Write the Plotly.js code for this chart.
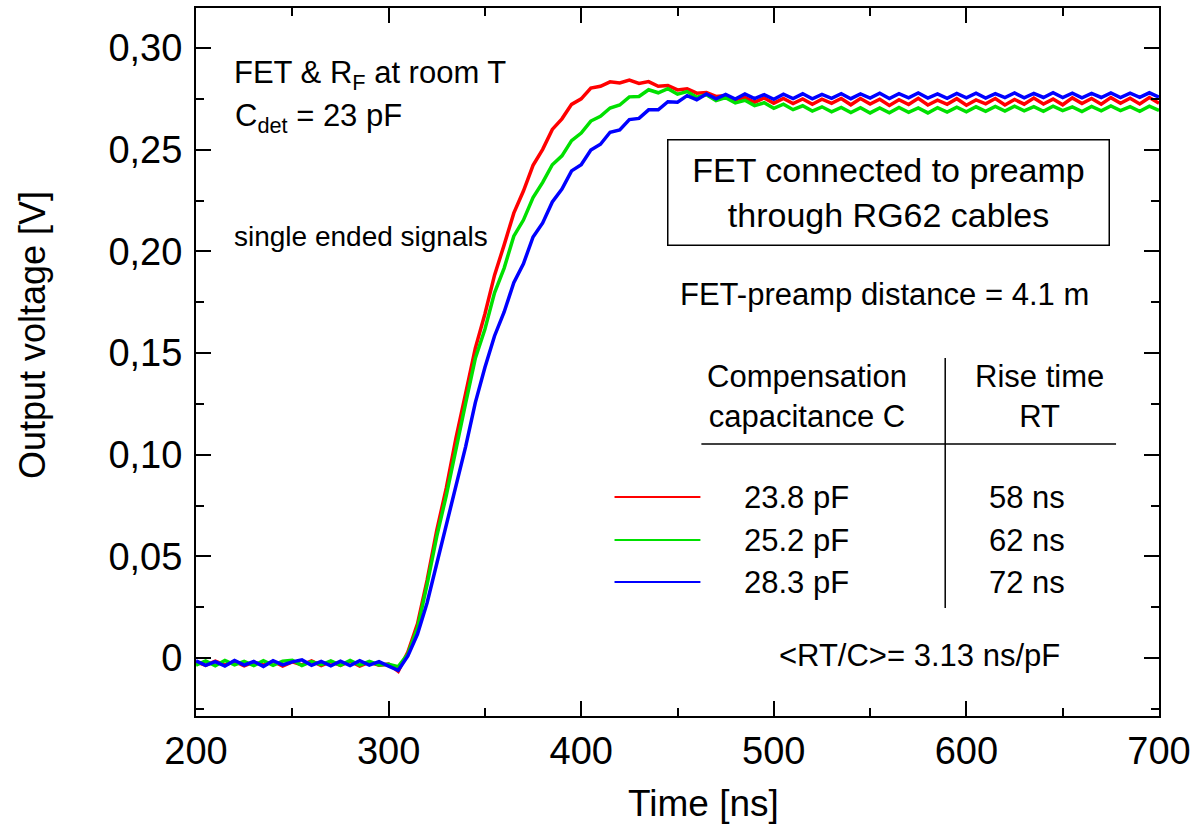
<!DOCTYPE html>
<html>
<head>
<meta charset="utf-8">
<script src="https://cdn.plot.ly/plotly-3.0.1.min.js"></script>
<style>html,body{margin:0;padding:0;background:#fff;}#chart{width:1193px;height:830px;}</style>
</head>
<body>
<div id="chart"></div>
<script>
// Time axis (ns)
const timeNs = [200,205,210,215,220,225,230,235,240,245,250,255,260,265,270,275,280,285,290,295,
300,305,310,315,320,325,330,335,340,345,350,355,360,365,370,375,380,385,390,395,
400,405,410,415,420,425,430,435,440,445,450,455,460,465,470,475,480,485,490,495,
500,505,510,515,520,525,530,535,540,545,550,555,560,565,570,575,580,585,590,595,
600,605,610,615,620,625,630,635,640,645,650,655,660,665,670,675,680,685,690,695,700];

// Output voltage (V), C = 23.8 pF
const v238 = [-0.0018,-0.0036,-0.0015,-0.0034,-0.0017,-0.0038,-0.0020,-0.0035,-0.0016,-0.0040,
-0.0019,-0.0034,-0.0014,-0.0037,-0.0018,-0.0036,-0.0016,-0.0039,-0.0020,-0.0035,
-0.0030,-0.0065,0.0030,0.0168,0.0383,0.0628,0.0838,0.1083,0.1302,0.1523,
0.1692,0.1883,0.2032,0.2188,0.2297,0.2423,0.2502,0.2600,0.2652,0.2723,
0.2750,0.2803,0.2812,0.2834,0.2828,0.2842,0.2826,0.2835,0.2812,0.2816,
0.2794,0.2800,0.2778,0.2781,0.2762,0.2766,0.2746,0.2757,0.2733,0.2755,
0.2729,0.2752,0.2727,0.2750,0.2724,0.2749,0.2728,0.2752,0.2721,0.2752,
0.2725,0.2748,0.2718,0.2746,0.2722,0.2753,0.2720,0.2744,0.2723,0.2751,
0.2719,0.2745,0.2726,0.2752,0.2720,0.2747,0.2724,0.2754,0.2725,0.2749,
0.2721,0.2755,0.2727,0.2752,0.2724,0.2756,0.2728,0.2753,0.2725,0.2757,
0.2729];

// Output voltage (V), C = 25.2 pF
const v252 = [-0.0035,-0.0014,-0.0038,-0.0012,-0.0034,-0.0016,-0.0037,-0.0013,-0.0036,-0.0015,
-0.0011,-0.0037,-0.0017,-0.0033,-0.0014,-0.0036,-0.0012,-0.0035,-0.0016,-0.0034,
-0.0031,-0.0042,0.0020,0.0148,0.0362,0.0598,0.0802,0.1038,0.1254,0.1473,
0.1617,0.1796,0.1918,0.2075,0.2154,0.2265,0.2339,0.2426,0.2470,0.2545,
0.2582,0.2641,0.2664,0.2705,0.2720,0.2760,0.2762,0.2795,0.2780,0.2800,
0.2773,0.2786,0.2758,0.2770,0.2742,0.2756,0.2730,0.2743,0.2717,0.2731,
0.2704,0.2724,0.2697,0.2716,0.2690,0.2711,0.2686,0.2708,0.2683,0.2707,
0.2681,0.2705,0.2682,0.2708,0.2684,0.2706,0.2681,0.2707,0.2685,0.2709,
0.2686,0.2711,0.2689,0.2713,0.2690,0.2714,0.2691,0.2712,0.2689,0.2714,
0.2692,0.2711,0.2688,0.2713,0.2691,0.2715,0.2692,0.2712,0.2689,0.2714,
0.2693];

// Output voltage (V), C = 28.3 pF
const v283 = [-0.0014,-0.0036,-0.0018,-0.0039,-0.0012,-0.0035,-0.0017,-0.0041,-0.0013,-0.0034,
-0.0019,-0.0009,-0.0036,-0.0016,-0.0038,-0.0015,-0.0037,-0.0013,-0.0035,-0.0018,
-0.0040,-0.0060,0.0010,0.0118,0.0272,0.0468,0.0650,0.0858,0.1040,0.1255,
0.1429,0.1584,0.1702,0.1846,0.1939,0.2071,0.2140,0.2243,0.2306,0.2396,
0.2426,0.2498,0.2527,0.2586,0.2597,0.2648,0.2654,0.2696,0.2696,0.2736,
0.2734,0.2766,0.2746,0.2774,0.2750,0.2772,0.2749,0.2774,0.2751,0.2771,
0.2748,0.2773,0.2752,0.2775,0.2750,0.2772,0.2753,0.2776,0.2751,0.2774,
0.2754,0.2778,0.2752,0.2776,0.2755,0.2779,0.2754,0.2775,0.2753,0.2777,
0.2755,0.2778,0.2754,0.2776,0.2756,0.2779,0.2755,0.2777,0.2757,0.2780,
0.2756,0.2778,0.2755,0.2777,0.2757,0.2779,0.2756,0.2778,0.2758,0.2780,
0.2759];

const seriesNames = ["23.8 pF", "25.2 pF", "28.3 pF"];
const riseTimes = ["58 ns", "62 ns", "72 ns"];
const seriesColors = ["#ff0000", "#00e000", "#0000ff"];
const yTickVals = [0, 0.05, 0.10, 0.15, 0.20, 0.25, 0.30];
const yTickText = ["0", "0,05", "0,10", "0,15", "0,20", "0,25", "0,30"];
const xTickVals = [200, 300, 400, 500, 600, 700];

const series = [v238, v252, v283];
const traces = series.map((v, i) => ({
  x: timeNs, y: v, type: "scatter", mode: "lines", name: seriesNames[i],
  line: {color: seriesColors[i], width: 3.5}, showlegend: false
}));

const FONT = "Liberation Sans, Arial, sans-serif";
const txt = (text, x, y, size, opts) => Object.assign({
  text: text, x: x, y: y, xref: "x", yref: "y", showarrow: false,
  font: {family: FONT, size: size, color: "#000"}, xanchor: "center", yanchor: "middle"
}, opts || {});

// legend / table positions (data coordinates)
const legY = [0.0792, 0.0580, 0.0374];
const annotations = [
  txt("FET &amp; R<sub>F</sub> at room T", 218.7, 0.2868, 31, {xanchor: "left"}),
  txt("C<sub>det</sub> = 23 pF", 219.2, 0.2655, 31, {xanchor: "left"}),
  txt("single ended signals", 218.7, 0.2071, 28, {xanchor: "left"}),
  txt("FET connected to preamp<br>through RG62 cables", 559.4, 0.2292, 34,
      {bordercolor: "#000", borderwidth: 1.5, borderpad: 0, width: 440, height: 104, bgcolor: "rgba(255,255,255,0)"}),
  txt("FET-preamp distance = 4.1 m", 557.6, 0.1786, 31),
  txt("Compensation<br>capacitance C", 517.4, 0.1284, 31),
  txt("Rise time<br>RT", 637.8, 0.1284, 31),
  txt("&lt;RT/C&gt;= 3.13 ns/pF", 575.5, 0.0015, 31),
  // axis titles
  txt("Time [ns]", 0.5275, -0.1229, 37, {xref: "paper", yref: "paper"}),
  txt("Output voltage [V]", -0.1703, 0.538, 36, {xref: "paper", yref: "paper", textangle: -90})
];
seriesNames.forEach((n, i) => {
  annotations.push(txt(n, 511.7, legY[i], 31));
  annotations.push(txt(riseTimes[i], 631.5, legY[i], 31));
});

const shapes = [];
seriesColors.forEach((c, i) => {
  shapes.push({type: "line", xref: "x", yref: "y", x0: 417.3, x1: 461.9, y0: legY[i], y1: legY[i],
    line: {color: c, width: 2}});
});
shapes.push({type: "line", xref: "x", yref: "y", x0: 462.4, x1: 677.7, y0: 0.1053, y1: 0.1053, line: {color: "#000", width: 1.5}});
shapes.push({type: "line", xref: "x", yref: "y", x0: 589.0, x1: 589.0, y0: 0.0246, y1: 0.1476, line: {color: "#000", width: 1.5}});

const axisCommon = {
  showline: true, linecolor: "#000", linewidth: 2, mirror: "allticks",
  ticks: "inside", ticklen: 15, tickwidth: 2, tickcolor: "#000",
  showgrid: false, zeroline: false,
  tickfont: {family: FONT, size: 38, color: "#000"}
};

const layout = {
  width: 1193, height: 830,
  margin: {l: 196, r: 34, t: 8, b: 114},
  paper_bgcolor: "#fff", plot_bgcolor: "#fff",
  font: {family: FONT, color: "#000"},
  showlegend: false,
  xaxis: Object.assign({}, axisCommon, {
    range: [200, 700], tickmode: "array", tickvals: xTickVals,
    minor: {tickmode: "linear", tick0: 0, dtick: 50, ticks: "inside", ticklen: 8, tickwidth: 2, tickcolor: "#000"}
  }),
  yaxis: Object.assign({}, axisCommon, {
    range: [-0.0285, 0.3197], tickmode: "array", tickvals: yTickVals, ticktext: yTickText,
    ticklabelstandoff: 4,
    minor: {tickmode: "linear", tick0: 0, dtick: 0.025, ticks: "inside", ticklen: 8, tickwidth: 2, tickcolor: "#000"}
  }),
  annotations: annotations,
  shapes: shapes
};

Plotly.newPlot("chart", traces, layout, {displayModeBar: false, staticPlot: true});
</script>
</body>
</html>
